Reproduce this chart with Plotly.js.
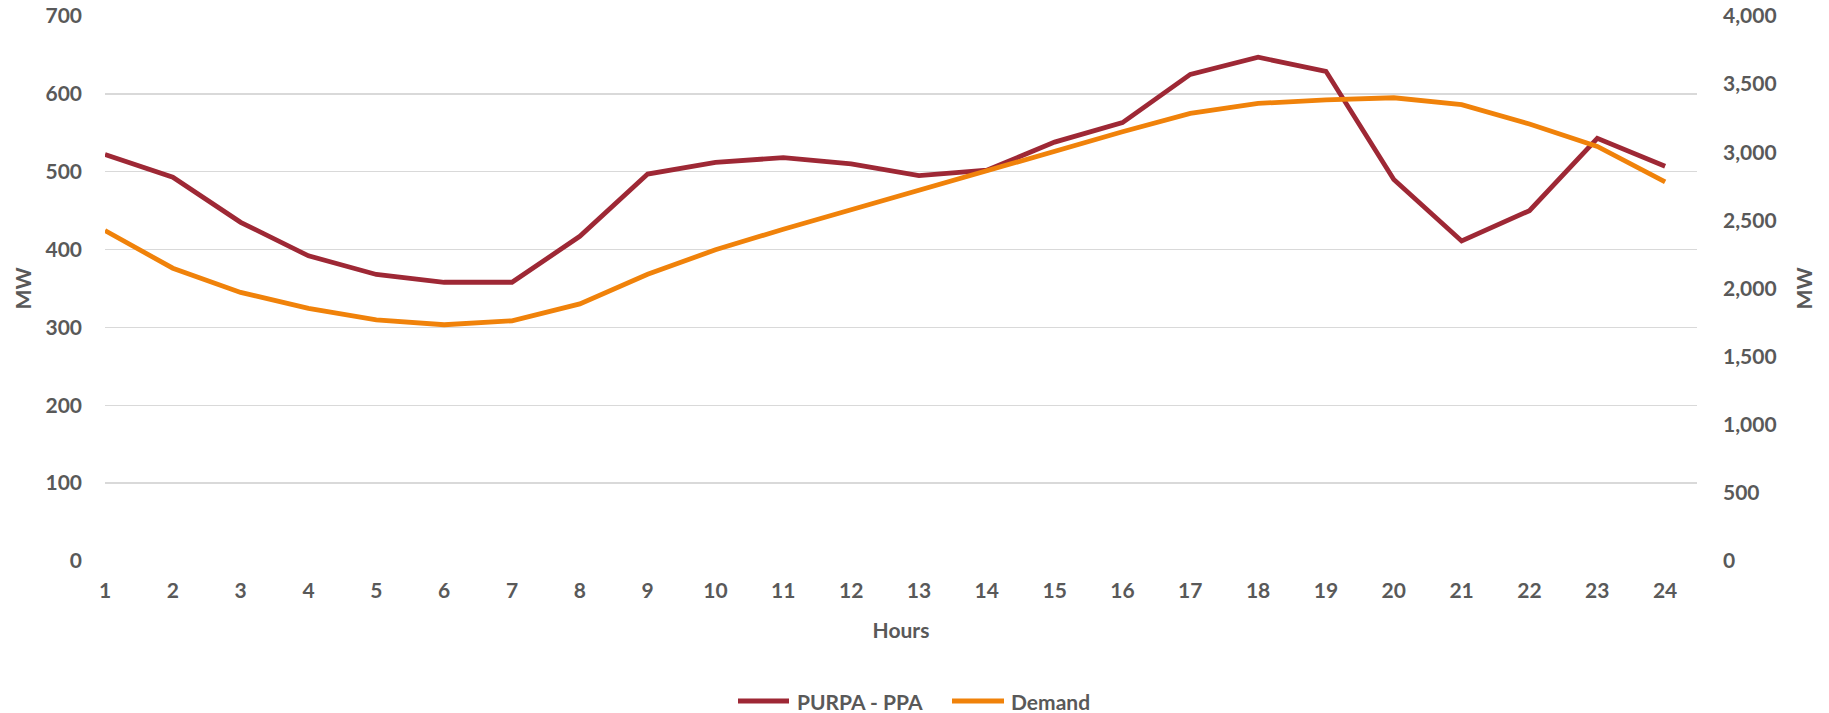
<!DOCTYPE html>
<html>
<head>
<meta charset="utf-8">
<script src="https://cdn.plot.ly/plotly-3.0.1.min.js"></script>
<style>
  html, body { margin: 0; padding: 0; background: #ffffff; }
  #chart { width: 1829px; height: 713px; }
</style>
</head>
<body>
<div id="chart"></div>
<script>
// Hourly profile: PURPA - PPA output (left axis) and system demand (right axis), MW
const hours = [1, 2, 3, 4, 5, 6, 7, 8, 9, 10, 11, 12, 13, 14, 15, 16, 17, 18, 19, 20, 21, 22, 23, 24];
const purpaPpa = [522, 493, 435, 392, 368, 358, 358, 417, 497, 512, 518, 510, 495, 502, 538, 563, 625, 647, 629, 490, 411, 450, 543, 507];
const demand = [2425, 2149, 1971, 1854, 1770, 1734, 1763, 1887, 2105, 2284, 2435, 2579, 2723, 2865, 3011, 3150, 3285, 3358, 3385, 3400, 3349, 3207, 3043, 2782];
const seriesNames = ['PURPA - PPA', 'Demand'];
const seriesColors = ['#9E2835', '#F0820A'];

const textColor = '#595959';
const baseFont = { family: 'Lato, "Open Sans", sans-serif', size: 21, color: textColor, weight: 'bold' };

const traces = [
  {
    x: hours, y: purpaPpa, name: seriesNames[0], type: 'scatter', mode: 'lines',
    line: { color: seriesColors[0], width: 4.8 }, yaxis: 'y'
  },
  {
    x: hours, y: demand, name: seriesNames[1], type: 'scatter', mode: 'lines',
    line: { color: seriesColors[1], width: 4.8 }, yaxis: 'y2'
  }
];

// Bottom legend: long line swatch followed by the series name, in paper units
const plotLeft = 105, plotWidth = 1592, plotBottom = 561, plotHeight = 545;
const toPaperX = px => (px - plotLeft) / plotWidth;
const legendY = (plotBottom - 701) / plotHeight;
const legendEntries = [
  { lineFrom: 738, lineTo: 789, textAt: 795 },
  { lineFrom: 952, lineTo: 1004, textAt: 1009 }
];
const legendShapes = legendEntries.map((e, i) => ({
  type: 'line', xref: 'paper', yref: 'paper',
  x0: toPaperX(e.lineFrom), x1: toPaperX(e.lineTo), y0: legendY, y1: legendY,
  line: { color: seriesColors[i], width: 5 }
}));
const legendLabels = legendEntries.map((e, i) => ({
  xref: 'paper', yref: 'paper', x: toPaperX(e.textAt), y: legendY,
  xanchor: 'left', yanchor: 'middle', showarrow: false,
  text: seriesNames[i], font: baseFont
}));

const layout = {
  width: 1829, height: 713,
  margin: { l: 105, r: 132, t: 16, b: 152, pad: 0 },
  paper_bgcolor: '#ffffff', plot_bgcolor: '#ffffff',
  font: baseFont,
  showlegend: false,
  shapes: legendShapes,
  annotations: legendLabels,
  xaxis: {
    range: [1, 24.47], tickmode: 'array', tickvals: hours, ticktext: hours.map(String),
    showgrid: false, zeroline: false, showline: false, ticks: '',
    ticklabelstandoff: 15, tickfont: baseFont,
    title: { text: 'Hours', font: baseFont, standoff: 22 }
  },
  yaxis: {
    range: [0, 700], dtick: 100, tick0: 0,
    showgrid: true, gridcolor: '#D9D9D9', gridwidth: 1.4,
    zeroline: false, showline: false, ticks: '',
    ticklabelstandoff: 22, tickfont: baseFont,
    title: { text: 'MW', font: baseFont, standoff: 8 }
  },
  yaxis2: {
    overlaying: 'y', side: 'right', range: [0, 4000], dtick: 500, tick0: 0,
    tickformat: ',d', showgrid: false, zeroline: false, showline: false, ticks: '',
    ticklabelstandoff: 25, tickfont: baseFont,
    title: { text: 'MW', font: baseFont, standoff: 21 }
  }
};

Plotly.newPlot('chart', traces, layout, { displayModeBar: false, staticPlot: true });
</script>
</body>
</html>
